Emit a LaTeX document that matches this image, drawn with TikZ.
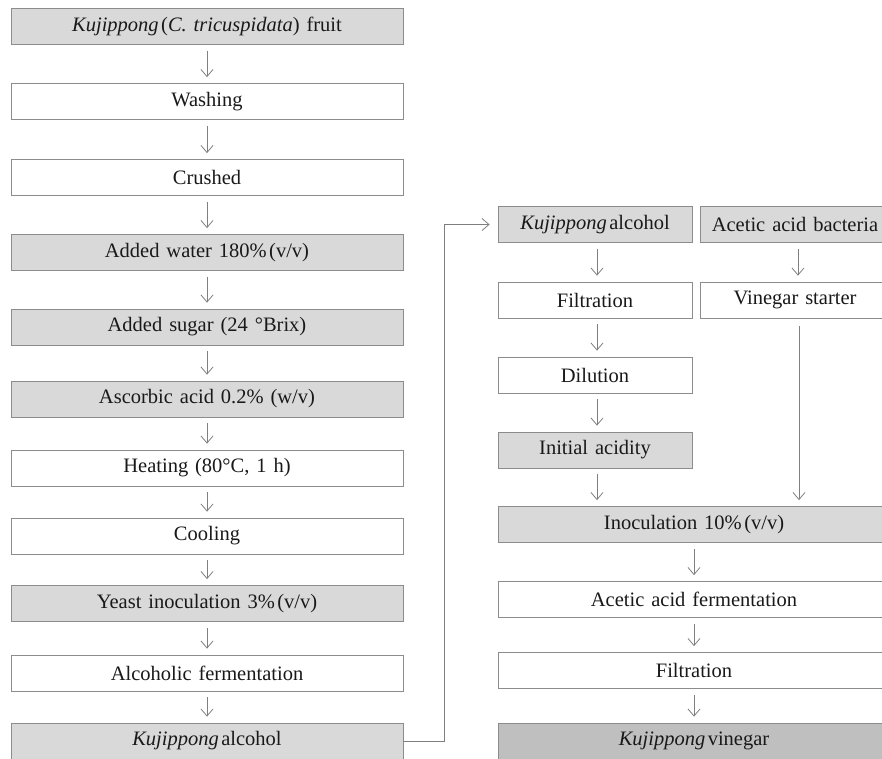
\documentclass[tikz,border=0pt]{standalone}
\usepackage{fontspec}
\setmainfont{Liberation Serif}[WordSpace=1.35]
\usetikzlibrary{arrows.meta,calc}
\definecolor{bordercol}{HTML}{8C8C8C}
\definecolor{lightfill}{HTML}{D9D9D9}
\definecolor{darkfill}{HTML}{BFBFBF}
\definecolor{arrcol}{HTML}{7F7F7F}
\newcommand{\nsp}{\hspace{0.12em}}
\begin{document}
\begin{tikzpicture}[x=1pt,y=-1pt,
  box/.style={draw=bordercol,line width=0.8pt,fill=white,minimum height=36pt,inner sep=0pt,font=\fontsize{20.5}{23}\selectfont,text=black!90},
  greybox/.style={box,fill=lightfill},
  darkbox/.style={box,fill=darkfill},
  narrow/.style={minimum width=392pt},
  half/.style={minimum width=194pt},
  halfb/.style={minimum width=190pt},
  arr/.style={draw=arrcol,line width=0.8pt,-{Straight Barb[length=7pt,width=12pt,line width=0.8pt]},shorten <=6pt,shorten >=6pt}
]
\useasboundingbox[fill=white] (0,0) rectangle (882,759);
% left column
\node[greybox,narrow] (l1) at (207,26.5) {\textit{Kujippong}\nsp(\textit{C. tricuspidata}) fruit};
\node[box,narrow] (l2) at (207,101.5) {Washing};
\node[box,narrow] (l3) at (207,177.5) {Crushed};
\node[greybox,narrow] (l4) at (207,252.5) {Added water 180\%\nsp(v/v)};
\node[greybox,narrow] (l5) at (207,327) {Added sugar (24 °Brix)};
\node[greybox,narrow] (l6) at (207,399) {Ascorbic acid 0.2\% (w/v)};
\node[box,narrow] (l7) at (207,468) {Heating (80°C, 1 h)};
\node[box,narrow] (l8) at (207,536) {Cooling};
\node[greybox,narrow] (l9) at (207,603.5) {Yeast inoculation 3\%\nsp(v/v)};
\node[box,narrow] (l10) at (207,673) {Alcoholic fermentation};
\node[greybox,narrow] (l11) at (207,741) {\textit{Kujippong}\nsp alcohol};
\foreach \a/\b in {l1/l2,l2/l3,l3/l4,l4/l5,l5/l6,l6/l7,l7/l8,l8/l9,l9/l10,l10/l11}
  \draw[arr] (\a.south) -- (\b.north);
% right column
\node[greybox,half] (r1) at (595,224.5) {\textit{Kujippong}\nsp alcohol};
\node[greybox,halfb] (b1) at (795,224.5) {Acetic acid bacteria};
\node[box,half] (r2) at (595,300) {Filtration};
\node[box,halfb] (b2) at (795,300) {Vinegar starter};
\node[box,half] (r3) at (595,375) {Dilution};
\node[greybox,half] (r4) at (595,450) {Initial acidity};
\node[greybox,narrow] (r5) at (694,524.5) {Inoculation 10\%\nsp(v/v)};
\node[box,narrow] (r6) at (694,599.5) {Acetic acid fermentation};
\node[box,narrow] (r7) at (694,670.5) {Filtration};
\node[darkbox,narrow] (r8) at (694,741) {\textit{Kujippong}\nsp vinegar};
\foreach \a/\b in {r1/r2,r2/r3,r3/r4}
  \draw[arr] ([xshift=2pt]\a.south) -- ([xshift=2pt]\b.north);
\draw[arr] ([xshift=2pt]r4.south) -- ([xshift=2pt]r4.south |- r5.north);
\draw[arr] ([xshift=3pt]b1.south) -- ([xshift=3pt]b2.north);
\draw[arr,shorten <=8pt] ([xshift=4pt]b2.south) -- ([xshift=4pt]b2.south |- r5.north);
\draw[arr] (r5.south) -- (r6.north);
\draw[arr] (r6.south) -- (r7.north);
\draw[arr] (r7.south) -- (r8.north);
% connector
\coordinate (bend) at (444,0);
\draw[arr,shorten <=0pt,shorten >=8pt] (l11.east) -- (l11.east -| bend) |- (r1.west);
\end{tikzpicture}
\end{document}
